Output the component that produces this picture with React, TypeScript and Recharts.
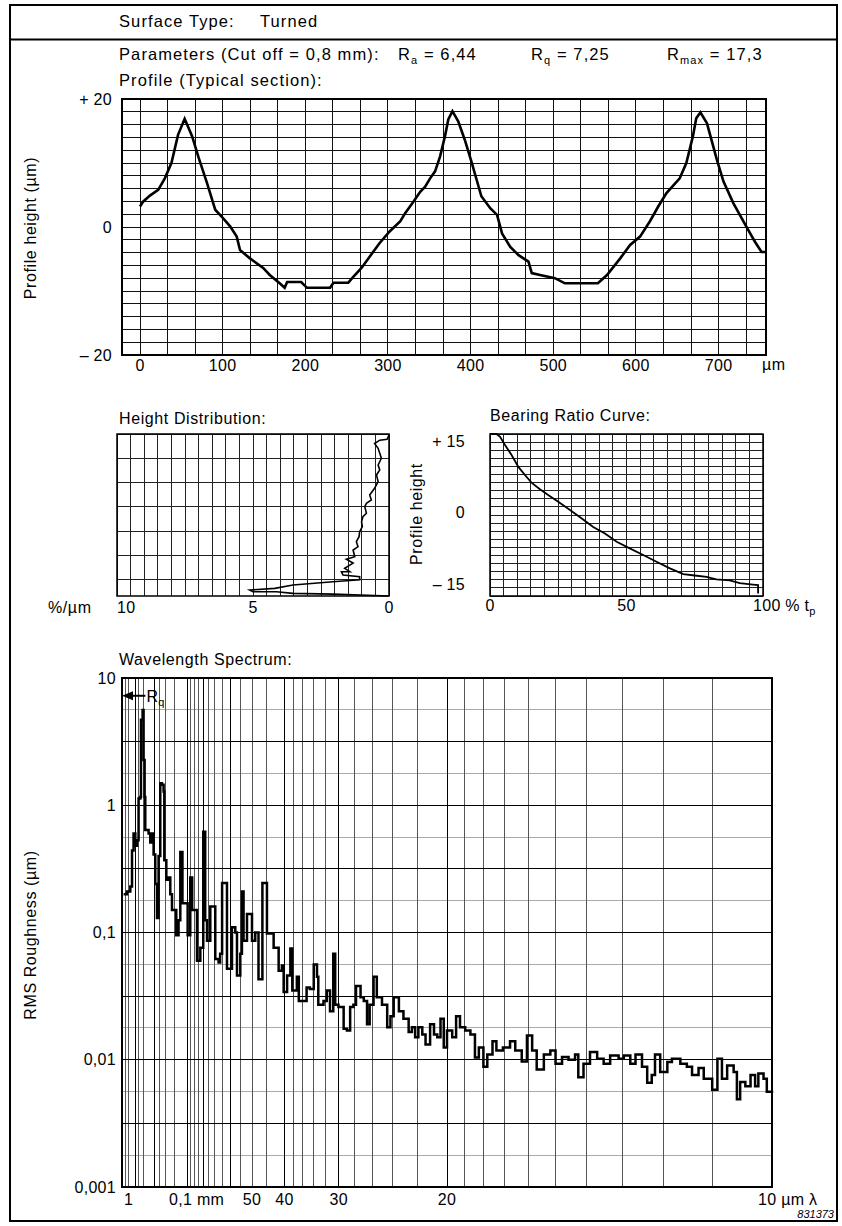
import React from 'react';
import { LineChart, Line, XAxis, YAxis, CartesianGrid, ReferenceArea, ReferenceLine } from 'recharts';

const FONT = "'Liberation Sans', Arial, Helvetica, sans-serif";

// profile (typical section): position along surface (µm) and height (µm)
const profileX = [0, 4, 12, 22, 30, 38, 46, 54, 63, 71, 81, 91, 99, 109, 117, 121, 133, 149, 157, 169, 175, 178, 195, 202, 230, 234, 252, 258, 268, 282, 290, 302, 315, 321, 331, 339, 345, 351, 357, 363, 369, 373, 378, 385, 393, 401, 413, 424, 432, 438, 448, 458, 470, 474, 484, 502, 514, 532, 554, 565, 581, 593, 605, 617, 627, 637, 653, 661, 669, 673, 678, 686, 698, 706, 718, 736, 744, 752, 757];
const profileY = [3.2, 4.0, 4.9, 5.8, 7.6, 10.0, 14.4, 16.9, 14.2, 10.8, 6.9, 2.7, 1.6, 0.1, -1.5, -3.6, -4.9, -6.4, -7.5, -8.8, -9.5, -8.6, -8.6, -9.5, -9.5, -8.7, -8.7, -7.8, -6.4, -3.9, -2.5, -0.7, 0.9, 2.2, 4.0, 5.5, 6.3, 7.6, 8.7, 11.0, 14.2, 16.8, 18.1, 16.5, 13.6, 10.2, 4.8, 2.9, 1.9, -1.0, -3.1, -4.4, -5.4, -7.2, -7.5, -8.0, -8.8, -8.8, -8.8, -7.5, -4.9, -2.8, -1.5, 0.9, 3.2, 5.3, 7.6, 10.0, 14.2, 17.0, 17.9, 16.2, 10.5, 7.1, 3.7, -0.5, -2.3, -3.9, -3.9];
const profileTicksX = [0, 100, 200, 300, 400, 500, 600, 700];
const profileTicksY = [20, 0, -20];
const profileTickLabelsY = ['+ 20', '0', '– 20'];

// height distribution (%/µm) against profile height
const distValue = [0, 0.07, 0.34, 0.53, 0.4, 0.34, 0.28, 0.4, 0.34, 0.46, 0.4, 0.53, 0.71, 0.65, 0.83, 0.89, 0.83, 0.96, 1.01, 0.98, 1.08, 1.1, 1.2, 1.14, 1.32, 1.26, 1.57, 1.32, 1.63, 1.44, 1.75, 1.69, 1.08, 1.08, 2.06, 3.53, 4.2, 5.12, 5.0, 4.14, 3.53, 2.06, 0];
const distHeight = [16.3, 15.4, 15.2, 14.5, 13.5, 12.45, 11.4, 10.0, 8.95, 7.9, 6.5, 5.1, 3.7, 2.65, 1.95, 1.25, -0.15, -0.85, -1.9, -2.95, -4.0, -5.05, -6.1, -7.15, -7.85, -9.25, -9.8, -10.6, -11.7, -12.4, -12.4, -13.1, -13.45, -14.1, -14.5, -15.2, -15.9, -16.25, -16.6, -16.6, -16.95, -17.1, -17.5];
const distTicks = [10, 5, 0];

// bearing ratio curve: tp (%) against profile height
const bearingTp = [0, 2.4, 3.7, 5.5, 7.9, 10.4, 12.8, 15.2, 18.3, 21.3, 25.0, 29.3, 33.5, 37.8, 42.1, 46.4, 51.2, 56.1, 61.0, 65.9, 70.8, 75.0, 79.3, 82.9, 87.8, 91.5, 96.3, 98.2, 98.2];
const bearingHeight = [16.5, 16.5, 15.9, 14.2, 12.1, 9.6, 7.9, 6.3, 4.9, 3.7, 2.3, 0.55, -1.2, -3.0, -4.4, -6.1, -7.5, -8.9, -10.3, -11.7, -12.9, -13.2, -13.5, -14.0, -14.2, -14.8, -15.1, -15.2, -17.0];
const bearingTicksX = [0, 50, 100];
const bearingTicksY = [15, 0, -15];
const bearingTickLabelsY = ['+ 15', '0', '– 15'];
const lowerDomain = [-17.5, 16.5];

// wavelength spectrum: spatial frequency (1/mm) and RMS roughness (µm)
const specFreq = [0.25, 0.77, 1.28, 1.54, 1.78, 2.05, 2.31, 2.55, 2.82, 2.92, 3.17, 3.32, 3.48, 3.58, 4.09, 4.35, 4.62, 4.86, 5.12, 5.38, 5.63, 5.89, 6.15, 6.4, 6.51, 6.82, 7.08, 7.43, 7.69, 8.35, 8.7, 8.97, 9.3, 10.1, 10.5, 10.8, 11.54, 12.05, 12.5, 12.8, 13.08, 13.58, 14.35, 14.86, 15.1, 15.4, 16.15, 16.92, 17.43, 17.69, 18.2, 18.45, 18.7, 19.23, 20.0, 20.5, 21.0, 21.6, 22.3, 23.1, 23.33, 24.1, 24.6, 24.87, 25.4, 25.9, 26.2, 26.9, 27.2, 27.9, 28.4, 28.9, 29.5, 30.0, 30.2, 31.0, 31.5, 32.0, 32.5, 32.8, 33.3, 33.8, 34.1, 34.6, 35.1, 35.6, 36.0, 36.7, 37.2, 37.7, 38.1, 38.7, 39.2, 40.0, 40.8, 41.3, 41.8, 42.6, 43.3, 44.1, 44.6, 45.1, 45.6, 46.2, 46.7, 47.4, 48.0, 48.5, 49.0, 49.5, 50.0, 50.8, 51.4, 52.0, 52.8, 53.6, 54.3, 54.9, 55.6, 56.2, 57.0, 57.6, 58.6, 59.7, 60.5, 61.5, 62.3, 63.1, 63.8, 64.9, 65.9, 66.7, 67.7, 68.7, 69.7, 70.2, 71.0, 72.0, 73.1, 74.1, 75.1, 76.4, 77.2, 78.2, 79.0, 80.0, 80.8, 81.5, 82.0, 82.8, 83.9, 84.6, 85.9, 86.9, 87.7, 88.7, 89.5, 90.8, 91.6, 92.3, 93.1, 94.1, 94.6, 95.1, 95.9, 96.7, 97.4, 97.9, 98.7, 99.2, 100];
const specRms = [0.2, 0.21, 0.23, 0.44, 0.6, 0.48, 0.53, 1.13, 1.16, 4.7, 5.6, 2.27, 1.16, 0.64, 0.6, 0.51, 0.6, 0.41, 0.24, 0.13, 0.4, 1.49, 1.45, 1.28, 0.37, 0.26, 0.27, 0.2, 0.15, 0.095, 0.125, 0.43, 0.17, 0.095, 0.27, 0.15, 0.06, 0.076, 0.62, 0.125, 0.086, 0.16, 0.062, 0.058, 0.068, 0.245, 0.052, 0.11, 0.1, 0.046, 0.068, 0.21, 0.086, 0.14, 0.086, 0.1, 0.043, 0.245, 0.098, 0.098, 0.076, 0.05, 0.055, 0.034, 0.046, 0.075, 0.035, 0.045, 0.029, 0.029, 0.037, 0.036, 0.056, 0.045, 0.027, 0.029, 0.035, 0.024, 0.068, 0.027, 0.026, 0.026, 0.0175, 0.017, 0.026, 0.027, 0.038, 0.031, 0.029, 0.019, 0.027, 0.045, 0.031, 0.027, 0.018, 0.022, 0.031, 0.024, 0.021, 0.0165, 0.018, 0.015, 0.018, 0.0158, 0.0132, 0.019, 0.0158, 0.015, 0.021, 0.0125, 0.017, 0.015, 0.022, 0.018, 0.017, 0.0158, 0.0104, 0.0125, 0.0088, 0.011, 0.014, 0.0118, 0.0125, 0.014, 0.0118, 0.0097, 0.0155, 0.0118, 0.0084, 0.011, 0.0118, 0.0093, 0.0105, 0.01, 0.011, 0.0073, 0.0093, 0.0115, 0.0102, 0.0093, 0.0108, 0.0102, 0.0108, 0.0093, 0.011, 0.0088, 0.0066, 0.0076, 0.011, 0.008, 0.0096, 0.0102, 0.0093, 0.0088, 0.0076, 0.0086, 0.0071, 0.0058, 0.0102, 0.0071, 0.009, 0.008, 0.0049, 0.0067, 0.0062, 0.0076, 0.0062, 0.0078, 0.0071, 0.0056, 0.0055];
const specTickFreq = [1, 10, 20, 25, 1000 / 30, 50, 100];
const specTickLabels = ['1', '0,1 mm', '50', '40', '30', '20', '10 µm λ'];
const specTicksY = [10, 1, 0.1, 0.01, 0.001];
const specTickLabelsY = ['10', '1', '0,1', '0,01', '0,001'];
// grid is ruled in wavelength (µm) on a frequency axis
const specGridLambda = [2000, 1000, 500, 400, 300, 200, 175, 150, 125, 100, 95, 90, 85, 80, 75, 70, 65, 60, 55, 50, 45, 40, 38, 36, 34, 32, 30, 28, 26, 24, 22, 20, 19, 18, 17, 16, 15, 14, 13, 12, 11, 10];
const specGridDark = [500, 200, 100, 80, 60, 40, 30, 20];
const rqValue = 7.25;

const profileData = profileX.map((x, i) => ({ x, y: profileY[i] }));
const distData = distValue.map((d, i) => ({ d, h: distHeight[i] }));
const bearingData = bearingTp.map((t, i) => ({ t, h: bearingHeight[i] }));
const specData = specFreq.map((f, i) => ({ f, rms: specRms[i] }));

const profileGridX = Array.from({ length: 23 }, (_, k) => (k * 100) / 3);
const profileGridY = Array.from({ length: 21 }, (_, k) => -20 + 2 * k);
const lowerGridY = Array.from({ length: 21 }, (_, k) => lowerDomain[0] + 1.7 * k);
const distGridX = Array.from({ length: 21 }, (_, k) => k * 0.5);
const bearingGridX = Array.from({ length: 21 }, (_, k) => k * 5);
const specVLight = specGridLambda.filter((l) => !specGridDark.includes(l)).map((l) => 1000 / l);
const specVDark = specGridDark.map((l) => 1000 / l);
const specHDark = [-3, -2.5, -2, -1.5, -1, -0.5, 0, 0.5, 1].map((e) => Math.pow(10, e));
const specHLight = [-2.75, -2.25, -1.75, -1.25, -0.75, -0.25, 0.25, 0.75].map((e) => Math.pow(10, e));

const tickStyle = { fontSize: 16, fill: '#000', fontFamily: FONT, letterSpacing: 0.3 };
const txt = { fontSize: 16, fill: '#000', fontFamily: FONT, letterSpacing: 0.6 };
const head = { fontSize: 16.5, fill: '#000', fontFamily: FONT, letterSpacing: 1.1 };

const SpecXTick = (props: any) => {
  const { x, y, payload } = props;
  const i = specTickFreq.findIndex((f) => Math.abs(f - payload.value) < 1e-6);
  const label = specTickLabels[i] ?? '';
  const shift = label.includes('mm') ? -18 : label.includes('µm') ? -14 : 0;
  return (
    <text x={x + shift} y={y} dy="0.71em" textAnchor={shift ? 'start' : 'middle'} style={tickStyle}>
      {label}
    </text>
  );
};

const BearingXTick = (props: any) => {
  const { x, y, payload } = props;
  if (payload.value === 100) {
    return (
      <text x={x - 10} y={y} dy="0.71em" textAnchor="start" style={tickStyle}>
        100 % t<tspan dy={4} fontSize={11}>p</tspan>
      </text>
    );
  }
  return (
    <text x={x} y={y} dy="0.71em" textAnchor="middle" style={tickStyle}>
      {payload.value}
    </text>
  );
};

const DistXTick = (props: any) => {
  const { x, y, payload } = props;
  return (
    <text x={x} y={y} dy="0.71em" textAnchor={payload.value === 10 ? 'start' : 'middle'} style={tickStyle}>
      {payload.value}
    </text>
  );
};

const RqArrow = (props: any) => {
  const { x1, y1, x2 } = props;
  return (
    <g>
      <line x1={x1 + 8} y1={y1} x2={x2} y2={y1} stroke="#000" strokeWidth={2} />
      <polygon points={`${x1},${y1} ${x1 + 11},${y1 - 4.5} ${x1 + 11},${y1 + 4.5}`} fill="#000" />
      <text x={x2 + 1} y={y1 + 6} style={tickStyle}>
        R<tspan dy={4} fontSize={11}>q</tspan>
      </text>
    </g>
  );
};

function ProfileChart() {
  return (
    <div style={{ position: 'absolute', left: 62, top: 89 }}>
      <LineChart width={714} height={296} data={profileData} margin={{ top: 10, right: 10, left: 0, bottom: 0 }}>
        <CartesianGrid stroke="#111" strokeWidth={1} shapeRendering="crispEdges" horizontalValues={profileGridY} verticalValues={profileGridX} />
        <XAxis type="number" dataKey="x" domain={[-21.8, 757.4]} ticks={profileTicksX} interval={0} allowDataOverflow
          tickLine={false} axisLine={false} tickSize={3} tickMargin={2} height={30} tick={tickStyle} />
        <YAxis type="number" domain={[-20, 20]} ticks={profileTicksY} interval={0} width={60}
          tickFormatter={(v: number) => profileTickLabelsY[profileTicksY.indexOf(v)]}
          tickLine={false} axisLine={false} tickSize={6} tickMargin={4} tick={tickStyle} />
        <ReferenceArea x1={-21.8} x2={757.4} y1={-20} y2={20} fill="none" stroke="#000" strokeWidth={2} />
        <Line dataKey="y" type="linear" stroke="#000" strokeWidth={2.6} dot={false} isAnimationActive={false} />
      </LineChart>
    </div>
  );
}

function DistributionChart() {
  return (
    <div style={{ position: 'absolute', left: 57, top: 424 }}>
      <LineChart width={342} height={202} data={distData} margin={{ top: 10, right: 10, left: 60, bottom: 0 }}>
        <CartesianGrid stroke="#222" strokeWidth={1} shapeRendering="crispEdges" horizontalValues={lowerGridY} verticalValues={distGridX} />
        <XAxis type="number" dataKey="d" domain={[0, 10]} reversed ticks={distTicks} interval={0}
          tickLine={false} axisLine={false} tickSize={3} tickMargin={3} height={30} tick={<DistXTick />} />
        <YAxis type="number" domain={lowerDomain} hide />
        <ReferenceArea x1={0} x2={10} y1={lowerDomain[0]} y2={lowerDomain[1]} fill="none" stroke="#000" strokeWidth={1.5} />
        <Line dataKey="h" type="linear" stroke="#000" strokeWidth={1.6} dot={false} isAnimationActive={false} />
      </LineChart>
    </div>
  );
}

function BearingChart() {
  return (
    <div style={{ position: 'absolute', left: 430, top: 424 }}>
      <LineChart width={403} height={202} data={bearingData} margin={{ top: 10, right: 70, left: 0, bottom: 0 }}>
        <CartesianGrid stroke="#222" strokeWidth={1} shapeRendering="crispEdges" horizontalValues={lowerGridY} verticalValues={bearingGridX} />
        <XAxis type="number" dataKey="t" domain={[0, 100]} ticks={bearingTicksX} interval={0}
          tickLine={false} axisLine={false} tickSize={2} tickMargin={2} height={30} tick={<BearingXTick />} />
        <YAxis type="number" domain={lowerDomain} ticks={bearingTicksY} interval={0} width={60}
          tickFormatter={(v: number) => bearingTickLabelsY[bearingTicksY.indexOf(v)]}
          tickLine={false} axisLine={false} tickSize={10} tickMargin={15} tick={tickStyle} />
        <ReferenceArea x1={0} x2={100} y1={lowerDomain[0]} y2={lowerDomain[1]} fill="none" stroke="#000" strokeWidth={1.5} />
        <Line dataKey="h" type="linear" stroke="#000" strokeWidth={1.8} dot={false} isAnimationActive={false} />
      </LineChart>
    </div>
  );
}

function SpectrumChart() {
  return (
    <div style={{ position: 'absolute', left: 62, top: 668 }}>
      <LineChart width={775} height={549} data={specData} margin={{ top: 10, right: 65, left: 0, bottom: 0 }}>
        <CartesianGrid stroke="#aaa" strokeWidth={1} shapeRendering="crispEdges" vertical={false} horizontalValues={specHLight} />
        <CartesianGrid stroke="#555" strokeWidth={1} shapeRendering="crispEdges" horizontal={false} verticalValues={specVLight} />
        <CartesianGrid stroke="#000" strokeWidth={1} shapeRendering="crispEdges" horizontalValues={specHDark} verticalValues={specVDark} />
        <XAxis type="number" dataKey="f" domain={[0, 100]} ticks={specTickFreq} interval={0}
          tickLine={false} axisLine={false} tickSize={4} tickMargin={3} height={30} tick={<SpecXTick />} />
        <YAxis type="number" scale="log" domain={[0.001, 10]} allowDataOverflow ticks={specTicksY} interval={0} width={60}
          tickFormatter={(v: number) => specTickLabelsY[specTicksY.findIndex((t) => Math.abs(t - v) < 1e-9)]}
          tickLine={false} axisLine={false} tickSize={2} tickMargin={4} tick={tickStyle} />
        <ReferenceArea x1={0} x2={100} y1={0.001} y2={10} fill="none" stroke="#000" strokeWidth={2} />
        <ReferenceLine segment={[{ x: 0, y: rqValue }, { x: 3.6, y: rqValue }]} ifOverflow="visible" shape={RqArrow} />
        <Line dataKey="rms" type="stepAfter" stroke="#000" strokeWidth={2.5} dot={false} isAnimationActive={false} />
      </LineChart>
    </div>
  );
}

function PageText() {
  return (
    <svg width={842} height={1226} style={{ position: 'absolute', left: 0, top: 0 }}>
      <rect x={10} y={5} width={827} height={1216} fill="none" stroke="#000" strokeWidth={2} />
      <line x1={10} y1={39.5} x2={837} y2={39.5} stroke="#000" strokeWidth={2} />
      <text x={119} y={27} style={head}>Surface Type:</text>
      <text x={260} y={27} style={head}>Turned</text>
      <text x={119} y={60} style={head}>Parameters (Cut off = 0,8 mm):</text>
      <text x={398} y={60} style={head}>R<tspan dy={4} fontSize={11}>a</tspan><tspan dy={-4}> = 6,44</tspan></text>
      <text x={531} y={60} style={head}>R<tspan dy={4} fontSize={11}>q</tspan><tspan dy={-4}> = 7,25</tspan></text>
      <text x={667} y={60} style={head}>R<tspan dy={4} fontSize={11}>max</tspan><tspan dy={-4}> = 17,3</tspan></text>
      <text x={119} y={85.5} style={head}>Profile (Typical section):</text>
      <text x={30} y={233.7} transform="rotate(-90 30 228)" textAnchor="middle" style={txt}>Profile height (µm)</text>
      <text x={762} y={370} style={txt}>µm</text>
      <text x={119} y={424} style={txt}>Height Distribution:</text>
      <text x={490} y={421} style={txt}>Bearing Ratio Curve:</text>
      <text x={416} y={519.7} transform="rotate(-90 416 514)" textAnchor="middle" style={txt}>Profile height</text>
      <text x={48} y={613} style={txt}>%/µm</text>
      <text x={119} y={665} style={txt}>Wavelength Spectrum:</text>
      <text x={30} y={940.7} transform="rotate(-90 30 935)" textAnchor="middle" style={txt}>RMS Roughness (µm)</text>
      <text x={834} y={1218} textAnchor="end" style={{ fontSize: 11, fontStyle: 'italic', fontFamily: FONT, fill: '#000' }}>831373</text>
    </svg>
  );
}

export default function App() {
  return (
    <div style={{ position: 'absolute', left: 0, top: 0, width: 842, height: 1226, background: '#fff', fontFamily: FONT }}>
      <PageText />
      <ProfileChart />
      <DistributionChart />
      <BearingChart />
      <SpectrumChart />
    </div>
  );
}
